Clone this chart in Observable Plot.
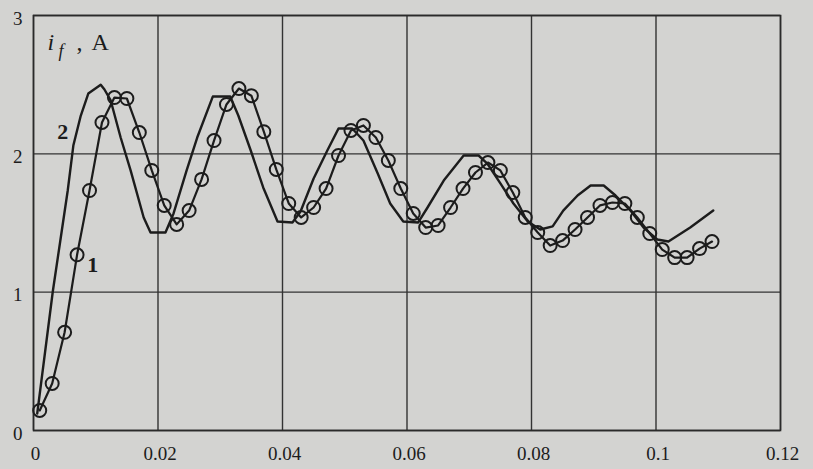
<!DOCTYPE html>
<html>
<head>
<meta charset="utf-8">
<script src="https://cdn.jsdelivr.net/npm/d3@7"></script>
<script src="https://cdn.jsdelivr.net/npm/@observablehq/plot@0.6"></script>
<style>
  html, body { margin: 0; padding: 0; background: #d3d3d1; }
  #chart { width: 813px; height: 469px; }
</style>
</head>
<body>
<div id="chart"></div>
<script>
// Curve 1 (with circle markers): time, s and field current, A
const t1 = [0.001,0.003,0.005,0.007,0.009,0.011,0.013,0.015,0.017,0.019,0.021,0.023,0.025,0.027,0.029,0.031,0.033,0.035,0.037,0.039,0.041,0.043,0.045,0.047,0.049,0.051,0.053,0.055,0.057,0.059,0.061,0.063,0.065,0.067,0.069,0.071,0.073,0.075,0.077,0.079,0.081,0.083,0.085,0.087,0.089,0.091,0.093,0.095,0.097,0.099,0.101,0.103,0.105,0.107,0.109];
const i1 = [0.145,0.34,0.71,1.27,1.735,2.227,2.407,2.40,2.154,1.88,1.627,1.49,1.59,1.815,2.096,2.357,2.472,2.42,2.16,1.887,1.641,1.54,1.612,1.749,1.988,2.169,2.205,2.118,1.952,1.749,1.569,1.467,1.482,1.612,1.749,1.865,1.937,1.88,1.72,1.54,1.431,1.337,1.373,1.453,1.54,1.627,1.648,1.641,1.54,1.424,1.308,1.25,1.25,1.315,1.366];

// Curve 2 (plain line)
const t2 = [0.0006,0.0031,0.0043,0.0055,0.0064,0.0076,0.0088,0.0108,0.0114,0.0124,0.0140,0.0156,0.0177,0.0188,0.0212,0.0225,0.0246,0.0263,0.0288,0.0316,0.0329,0.0349,0.0369,0.0392,0.0416,0.0429,0.0450,0.0472,0.0490,0.0512,0.0530,0.0553,0.0573,0.0594,0.0618,0.0633,0.0659,0.0691,0.0715,0.0729,0.0750,0.0771,0.0794,0.0814,0.0834,0.0851,0.0874,0.0895,0.0916,0.0935,0.0959,0.0980,0.1002,0.1020,0.1055,0.1092];
const i2 = [0.123,1.005,1.37,1.735,2.06,2.277,2.436,2.50,2.465,2.386,2.118,1.88,1.54,1.431,1.431,1.569,1.88,2.118,2.414,2.414,2.277,2.024,1.757,1.511,1.504,1.583,1.822,2.024,2.183,2.183,2.096,1.858,1.641,1.511,1.504,1.612,1.807,1.988,1.988,1.930,1.786,1.641,1.511,1.453,1.475,1.590,1.699,1.771,1.771,1.699,1.590,1.467,1.381,1.366,1.467,1.590];

// Axis ticks and labels
const xTicks = [0, 0.02, 0.04, 0.06, 0.08, 0.1, 0.12];
const xTickLabels = ["0", "0.02", "0.04", "0.06", "0.08", "0.1", "0.12"];
const yTicks = [0, 1, 2, 3];
const yTickLabels = ["0", "1", "2", "3"];

// Curve labels
const curveLabels = ["1", "2"];
const curveLabelT = [0.0095, 0.0047];
const curveLabelI = [1.2, 2.16];

const series1 = t1.map((t, k) => ({t, i: i1[k]}));
const series2 = t2.map((t, k) => ({t, i: i2[k]}));
const labels = curveLabels.map((s, k) => ({s, t: curveLabelT[k], i: curveLabelI[k]}));

const ink = "#1c1c1c";
const font = "'Liberation Serif', 'Times New Roman', serif";

const plot = Plot.plot({
  width: 813,
  height: 469,
  marginLeft: 33,
  marginRight: 33,
  marginTop: 15,
  marginBottom: 39,
  style: {background: "#d3d3d1", fontFamily: font, fontSize: "19px", color: ink},
  x: {domain: [0, 0.12]},
  y: {domain: [0, 3]},
  marks: [
    Plot.ruleX(xTicks, {stroke: "#333", strokeWidth: 1.4}),
    Plot.ruleY(yTicks, {stroke: "#333", strokeWidth: 1.4}),
    Plot.frame({stroke: "#2a2a2a", strokeWidth: 1.6}),
    Plot.axisX({ticks: xTicks, tickFormat: (d, k) => xTickLabels[k], tickSize: 0, tickPadding: 16, fill: ink, fontSize: 19, fontFamily: font, dx: 2, label: null}),
    Plot.axisY({ticks: yTicks, tickFormat: (d, k) => yTickLabels[k], tickSize: 0, tickPadding: 11, fill: ink, fontSize: 19, fontFamily: font, dy: 3, label: null}),
    Plot.line(series2, {x: "t", y: "i", stroke: ink, strokeWidth: 2.4, curve: "linear"}),
    Plot.line(series1, {x: "t", y: "i", stroke: ink, strokeWidth: 2.2}),
    Plot.dot(series1, {x: "t", y: "i", r: 6.5, stroke: ink, strokeWidth: 2, fill: "none"}),
    Plot.text(labels, {x: "t", y: "i", text: "s", fontSize: 22, fontWeight: "bold", fill: ink, fontFamily: font}),
    Plot.text(["i"], {frameAnchor: "top-left", dx: 14, dy: 17, fontSize: 24, fontStyle: "italic", fill: ink, textAnchor: "start", lineAnchor: "top", fontFamily: font}),
    Plot.text(["f"], {frameAnchor: "top-left", dx: 25, dy: 29, fontSize: 18, fontStyle: "italic", fill: ink, textAnchor: "start", lineAnchor: "top", fontFamily: font}),
    Plot.text([","], {frameAnchor: "top-left", dx: 43, dy: 17, fontSize: 24, fill: ink, textAnchor: "start", lineAnchor: "top", fontFamily: font}),
    Plot.text(["A"], {frameAnchor: "top-left", dx: 58, dy: 17, fontSize: 24, fill: ink, textAnchor: "start", lineAnchor: "top", fontFamily: font})
  ]
});
document.getElementById("chart").appendChild(plot);
</script>
</body>
</html>
